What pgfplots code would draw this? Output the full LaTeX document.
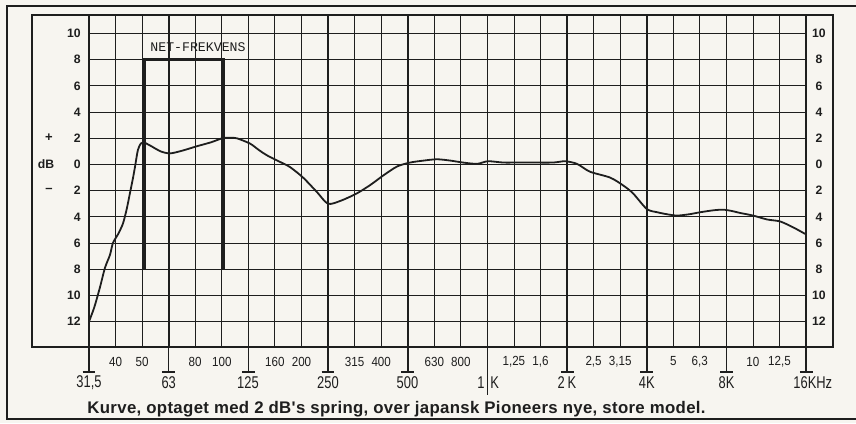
\documentclass[border=0pt]{standalone}
\usepackage{pgfplots}
\pgfplotsset{compat=1.18}
\usepackage{fontspec}
\setmainfont{Liberation Sans}
\newfontfamily\narrowA[FakeStretch=0.76]{Liberation Sans}
\newfontfamily\narrowB[FakeStretch=0.88]{Liberation Sans}
\newfontfamily\captfont[LetterSpace=2.0]{Liberation Sans}
\newfontfamily\typew{Liberation Mono}
\definecolor{ink}{HTML}{1E1E1E}
\definecolor{paper}{HTML}{F7F5F0}
\newcommand\PX[2]{({(#1-32)*0.5pt},{(347-#2)*0.5pt})}
\begin{document}
\begin{tikzpicture}
\fill[paper] \PX{0}{0} rectangle \PX{856}{423};
\begin{axis}[
  scale only axis, width=400.5pt, height=166pt,
  xmin=-2.146, xmax=28.01, ymin=-13.94, ymax=11.42,
  axis line style={ink, line width=0.9pt},
  ticks=none, clip=false,
]
% vertical grid
\pgfplotsinvokeforeach{0,...,27}{\draw[ink, line width=0.5pt] (axis cs:#1,-13.94) -- (axis cs:#1,11.42);}
\pgfplotsinvokeforeach{0,3,...,27}{\draw[ink, line width=0.85pt] (axis cs:#1,-13.94) -- (axis cs:#1,11.42);}
% horizontal grid
\pgfplotsinvokeforeach{-12,-10,...,10}{\draw[ink, line width=0.5pt] (axis cs:0,#1) -- (axis cs:27,#1);}
\draw[ink, line width=0.9pt] (axis cs:0,0) -- (axis cs:27,0);
% NET-FREKVENS box
\draw[ink, line width=1.6pt] (axis cs:2.1,-8) -- (axis cs:2.1,8) -- (axis cs:5.05,8) -- (axis cs:5.05,-8);
% response curve
\addplot[ink, line width=0.9pt, smooth, tension=0.45] coordinates {
(0,-12.0) (0.2,-10.9) (0.41,-9.4) (0.6,-7.9) (0.79,-6.9) (0.9,-6.0) (1.1,-5.3) (1.28,-4.5)
(1.42,-3.4) (1.54,-2.2) (1.65,-1.1) (1.73,-0.2) (1.84,1.1) (1.95,1.6) (2.05,1.7) (2.3,1.45)
(2.7,1.0) (3.05,0.85) (3.5,1.05) (4.07,1.4) (4.6,1.7) (5.01,2.0) (5.3,2.05) (5.57,2.0)
(6.06,1.6) (6.4,1.1) (6.7,0.7) (7.19,0.2) (7.57,-0.2) (8.06,-1.0) (8.58,-2.1) (9.0,-3.0)
(9.5,-2.75) (10.09,-2.2) (10.6,-1.55) (11.07,-0.85) (11.6,-0.15) (12.09,0.15) (12.6,0.3)
(13.1,0.4) (13.6,0.3) (14.08,0.15) (14.61,0.05) (15.02,0.25) (15.59,0.15) (16.1,0.15)
(16.6,0.15) (17.47,0.15) (17.92,0.25) (18.37,0.05) (18.86,-0.55) (19.62,-1.0) (20.11,-1.6)
(20.48,-2.2) (21.0,-3.4) (21.4,-3.65) (21.76,-3.8) (22.14,-3.9) (22.6,-3.8) (23.0,-3.65)
(23.5,-3.5) (23.87,-3.45) (24.2,-3.55) (24.51,-3.7) (25.0,-3.9) (25.53,-4.2) (26.02,-4.35)
(26.51,-4.8) (26.96,-5.3)
};
% y labels
\pgfplotsinvokeforeach{0,2,...,10}{
  \node[anchor=east, inner sep=0pt, text=ink, font=\bfseries\fontsize{6.1}{7}\selectfont] at (axis cs:-0.3,#1) {#1};
  \node[inner sep=0pt, text=ink, font=\bfseries\fontsize{6.1}{7}\selectfont] at (axis cs:27.48,#1) {#1};
}
\pgfplotsinvokeforeach{2,4,...,12}{
  \node[anchor=east, inner sep=0pt, text=ink, font=\bfseries\fontsize{6.1}{7}\selectfont] at (axis cs:-0.3,-#1) {#1};
  \node[inner sep=0pt, text=ink, font=\bfseries\fontsize{6.1}{7}\selectfont] at (axis cs:27.48,-#1) {#1};
}
% T ticks below the frame
\pgfplotsinvokeforeach{0,3,6,9,12,18,21,24,27}{
  \draw[ink, line width=0.8pt] (axis cs:#1,-13.94) -- (axis cs:#1,-15.85);
  \draw[ink, line width=0.8pt] (axis cs:#1-0.24,-15.85) -- (axis cs:#1+0.24,-15.85);
}
\draw[ink, line width=0.8pt] (axis cs:15,-13.94) -- (axis cs:15,-17.6);
\end{axis}
% outer frame
\draw[ink, line width=0.9pt] \PX{856}{6} -- \PX{7}{6} -- \PX{7}{419} -- \PX{856}{419};
% left sign labels
\node[text=ink, font=\bfseries\fontsize{6.5}{7}\selectfont] at \PX{49}{138} {+};
\node[text=ink, font=\bfseries\fontsize{6.1}{7}\selectfont] at \PX{46}{164.5} {dB};
\node[text=ink, font=\bfseries\fontsize{6.5}{7}\selectfont] at \PX{49}{190} {–};
% net frequency label
\node[text=ink, inner sep=0pt, font=\typew\fontsize{6.6}{7}\selectfont] at \PX{198}{47} {NET-FREKVENS};
% small frequency labels
\foreach \x/\t in {115.6/40,142.1/50,195.2/80,221.8/100,274.9/160,301.5/200,354.6/315,381.2/400,434.3/630,460.8/800,513.9/{1,25},540.5/{1,6},593.6/{2,5},620.2/{3,15},673.3/5,699.8/{6,3},752.9/10,779.5/{12,5}}{
  \node[text=ink, inner sep=0pt, font=\narrowB\fontsize{6.6}{7}\selectfont] at \PX{\x}{361.5} {\t};
}
% big frequency labels
\foreach \x/\t in {89/{31,5},168.7/63,248/125,328/250,407.5/500,567/{2\,K},646.8/{4K},726.5/{8K}}{
  \node[text=ink, inner sep=0pt, font=\narrowA\fontsize{8.5}{9}\selectfont] at \PX{\x}{383} {\t};
}
\node[text=ink, inner sep=0pt, anchor=east, font=\narrowA\fontsize{8.5}{9}\selectfont] at \PX{485}{383} {1};
\node[text=ink, inner sep=0pt, anchor=west, font=\narrowA\fontsize{8.5}{9}\selectfont] at \PX{490}{383} {K};
\node[text=ink, inner sep=0pt, anchor=west, font=\narrowA\fontsize{8.5}{9}\selectfont] at \PX{793}{383} {16KHz};
% caption
\node[text=ink, inner sep=0pt, anchor=base west, font=\captfont\bfseries\fontsize{8.4}{9}\selectfont] at \PX{87}{413} {Kurve, optaget med 2 dB's spring, over japansk Pioneers nye, store model.};
\pgfresetboundingbox
\useasboundingbox \PX{0}{0} rectangle \PX{856}{423};
\end{tikzpicture}
\end{document}
